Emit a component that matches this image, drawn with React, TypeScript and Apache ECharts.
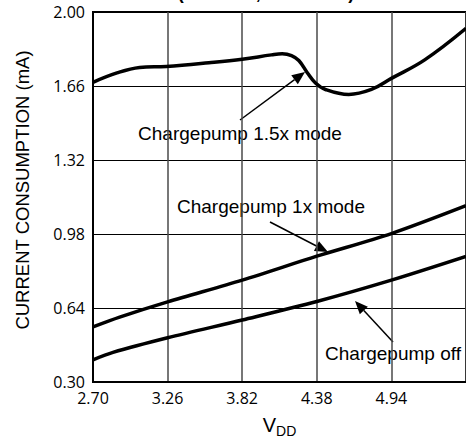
import React, { useEffect, useRef } from "react";
import * as echarts from "echarts";

// Axis origin offsets (ticks start at these values)
const X0 = 2.7;
const Y0 = 0.3;
const xTicks = [2.7, 3.26, 3.82, 4.38, 4.94, 5.5];
const yTicks = [0.3, 0.64, 0.98, 1.32, 1.66, 2.0];

// Chargepump 1.5x mode
const vdd15 = [2.70, 2.88, 3.05, 3.25, 3.57, 3.82, 4.04, 4.12, 4.19, 4.245, 4.31, 4.37, 4.445, 4.62, 4.79, 4.94, 5.19, 5.50];
const cur15 = [1.677, 1.72, 1.745, 1.750, 1.767, 1.783, 1.803, 1.808, 1.800, 1.777, 1.72, 1.674, 1.644, 1.621, 1.644, 1.695, 1.78, 1.925];

// Chargepump 1x mode
const vdd1 = [2.70, 2.90, 3.26, 3.82, 4.38, 4.94, 5.50];
const cur1 = [0.553, 0.598, 0.668, 0.768, 0.878, 0.982, 1.110];

// Chargepump off
const vddOff = [2.70, 2.85, 3.26, 3.82, 4.38, 4.94, 5.50];
const curOff = [0.402, 0.436, 0.503, 0.585, 0.670, 0.768, 0.877];

const FONT = "Liberation Sans, Arial, sans-serif";
const TICK_FONT = "Open Sans, sans-serif";

function toData(xs: number[], ys: number[]) {
  return xs.map((x, i) => [x - X0, ys[i] - Y0]);
}

function arrow(x1: number, y1: number, x2: number, y2: number) {
  const dx = x2 - x1, dy = y2 - y1;
  const L = Math.hypot(dx, dy);
  const ux = dx / L, uy = dy / L;
  const h = 13, w = 5.5;
  const bx = x2 - ux * h, by = y2 - uy * h;
  const px = -uy, py = ux;
  return [
    { type: "line", shape: { x1, y1, x2: bx, y2: by }, style: { stroke: "#000", lineWidth: 1.5 } },
    { type: "polygon", shape: { points: [[x2, y2], [bx + px * w, by + py * w], [bx - px * w, by - py * w]] }, style: { fill: "#000" } },
  ];
}

function label(text: string, x: number, y: number) {
  return {
    type: "text",
    x, y,
    style: { text, fill: "#000", font: `19px ${FONT}`, align: "center", verticalAlign: "middle" },
  };
}

export default function App() {
  const ref = useRef<HTMLDivElement>(null);
  useEffect(() => {
    const chart = echarts.init(ref.current!, null, { renderer: "svg" });
    const lineStyle = { color: "#000", width: 3.5 };
    chart.setOption({
      animation: false,
      backgroundColor: "#fff",
      grid: { left: 93, top: 12, width: 375, height: 374, show: true, borderColor: "#000", borderWidth: 2 },
      xAxis: {
        type: "value",
        min: 0,
        max: xTicks[xTicks.length - 1] - X0,
        interval: 0.56,
        axisLine: { show: true, lineStyle: { color: "#000", width: 2 } },
        axisTick: { show: false },
        splitLine: { show: true, lineStyle: { color: "#4a4a4a", width: 1.5 } },
        axisLabel: {
          margin: 8,
          showMaxLabel: false,
          color: "#000",
          fontFamily: TICK_FONT,
          fontSize: 16,
          formatter: (v: number) => (v + X0).toFixed(2),
        },
        name: "{v|V}{s|DD}",
        nameLocation: "middle",
        nameGap: 30,
        nameTextStyle: {
          rich: {
            v: { fontFamily: FONT, fontSize: 20, color: "#000" },
            s: { fontFamily: FONT, fontSize: 14, color: "#000", padding: [12, 0, 0, 0] },
          },
        },
      },
      yAxis: {
        type: "value",
        min: 0,
        max: yTicks[yTicks.length - 1] - Y0,
        interval: 0.34,
        axisLine: { show: true, lineStyle: { color: "#000", width: 2 } },
        axisTick: { show: false },
        splitLine: { show: true, lineStyle: { color: "#000", width: 1 } },
        axisLabel: {
          margin: 8,
          color: "#000",
          fontFamily: TICK_FONT,
          fontSize: 16,
          formatter: (v: number) => (v + Y0).toFixed(2),
        },
        name: "CURRENT CONSUMPTION (mA)",
        nameLocation: "middle",
        nameGap: 61,
        nameTextStyle: { fontFamily: FONT, fontSize: 18.5, color: "#000", padding: [0, 0, 0, 14] },
      },
      series: [
        { type: "line", name: "Chargepump 1.5x mode", data: toData(vdd15, cur15), smooth: 0.4, showSymbol: false, lineStyle },
        { type: "line", name: "Chargepump 1x mode", data: toData(vdd1, cur1), smooth: 0.3, showSymbol: false, lineStyle },
        { type: "line", name: "Chargepump off", data: toData(vddOff, curOff), smooth: 0.3, showSymbol: false, lineStyle },
      ],
      graphic: [
        {
          type: "text", x: 266, y: 2,
          style: { text: "(No Load, TA = 25°C)", fill: "#000", font: `bold 18px ${FONT}`, align: "center", verticalAlign: "bottom" },
        },
        label("Chargepump 1.5x mode", 240, 133),
        ...arrow(240, 120, 305, 72),
        label("Chargepump 1x mode", 271, 206),
        ...arrow(270, 222, 328, 252),
        label("Chargepump off", 393, 353),
        ...arrow(393, 342, 355, 301),
      ],
    });
    return () => chart.dispose();
  }, []);
  return <div ref={ref} style={{ width: 466, height: 443, position: "absolute", left: 0, top: 0 }} />;
}
